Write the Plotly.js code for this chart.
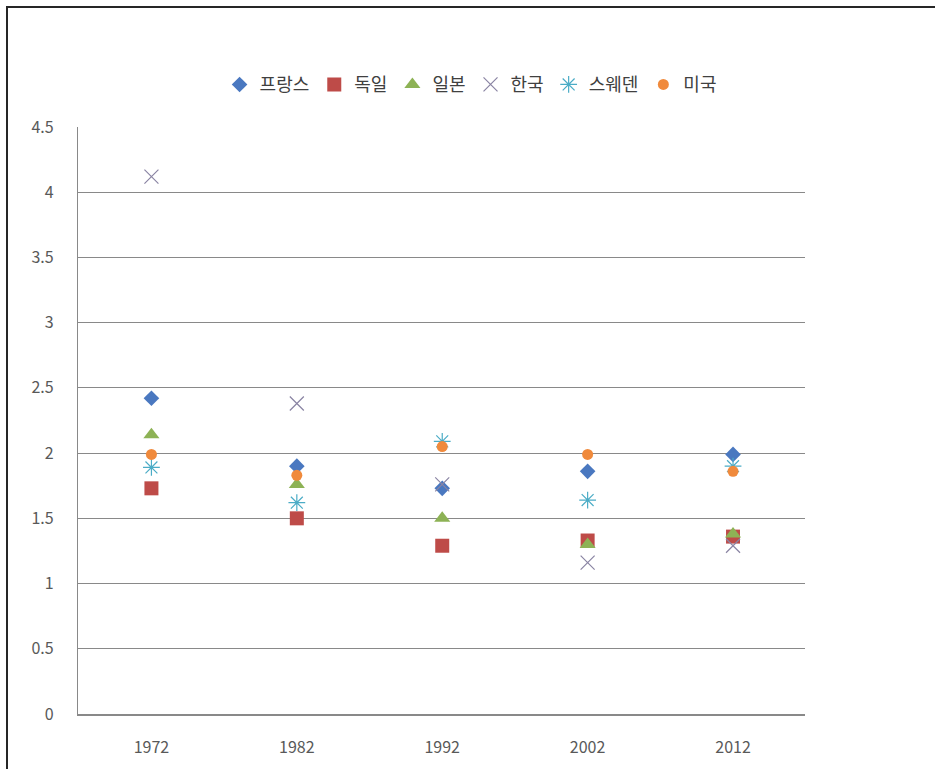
<!DOCTYPE html>
<html>
<head>
<meta charset="utf-8">
<script src="https://cdn.plot.ly/plotly-3.0.1.min.js"></script>
<style>
  html, body { margin: 0; padding: 0; background: #fff; }
  #wrap { position: relative; width: 935px; height: 769px; overflow: hidden; }
  #chart { position: absolute; left: 0; top: 0; width: 935px; height: 769px; }
  #frame { position: absolute; left: 6px; top: 6px; width: 960px; height: 800px;
           border-left: 2px solid #262626; border-top: 2px solid #262626; pointer-events: none; }
</style>
</head>
<body>
<div id="wrap">
  <div id="chart"></div>
  <div id="frame"></div>
</div>
<script>
const years = ['1972', '1982', '1992', '2002', '2012'];
const seriesNames = ['프랑스', '독일', '일본', '한국', '스웨덴', '미국'];
const france = [2.42, 1.90, 1.73, 1.86, 1.99];
const germany = [1.73, 1.50, 1.29, 1.33, 1.36];
const japan = [2.14, 1.76, 1.50, 1.30, 1.38];
const korea = [4.12, 2.38, 1.76, 1.16, 1.29];
const sweden = [1.89, 1.62, 2.09, 1.64, 1.90];
const usa = [1.99, 1.83, 2.05, 1.99, 1.86];
const yTicks = [0, 0.5, 1, 1.5, 2, 2.5, 3, 3.5, 4, 4.5];
const yTickText = ['0', '0.5', '1', '1.5', '2', '2.5', '3', '3.5', '4', '4.5'];

const values = [france, germany, japan, korea, sweden, usa];
const styles = [
  {symbol: 'diamond', color: '#4A78C0', size: 12},
  {symbol: 'square', color: '#BE4B48', size: 14},
  {symbol: 'triangle-up', color: '#8DB255', size: 14},
  {symbol: 'x-thin-open', color: '#8A84A3', size: 14, lw: 1.2},
  {symbol: 'asterisk-open', color: '#4BACC6', size: 14, lw: 1.2},
  {symbol: 'circle', color: '#F08A3C', size: 11}
];

const traces = values.map((v, i) => {
  const s = styles[i];
  const m = {symbol: s.symbol, color: s.color, size: s.size};
  if (s.lw) m.line = {color: s.color, width: s.lw};
  else m.line = {width: 0};
  return {type: 'scatter', mode: 'markers', name: seriesNames[i], x: years, y: v, marker: m};
});

const layout = {
  width: 935, height: 769,
  margin: {l: 78, r: 130, t: 127, b: 55},
  paper_bgcolor: '#fff', plot_bgcolor: '#fff',
  font: {family: 'Noto Sans CJK KR, Noto Sans, sans-serif', color: '#595959', size: 15},
  showlegend: true,
  legend: {
    orientation: 'h', x: 0.54, xanchor: 'center', y: 1.072, yanchor: 'middle',
    font: {size: 18, color: '#404040'}, itemwidth: 30, tracegroupgap: 0
  },
  xaxis: {
    type: 'category', range: [-0.505, 4.495], showgrid: false,
    showline: true, linecolor: '#898989', linewidth: 1.5,
    ticks: '', ticklabelstandoff: 18,
    tickfont: {family: 'Noto Sans CJK KR, Noto Sans, sans-serif', size: 16, color: '#595959'},
    zeroline: false, fixedrange: true
  },
  yaxis: {
    range: [0, 4.5], tickvals: yTicks, ticktext: yTickText,
    showgrid: true, gridcolor: '#898989', gridwidth: 1.2,
    showline: true, linecolor: '#898989', linewidth: 1.2,
    ticks: '', ticklabelstandoff: 20,
    tickfont: {family: 'Noto Sans CJK KR, Noto Sans, sans-serif', size: 16, color: '#595959'},
    zeroline: false, fixedrange: true
  }
};

Plotly.newPlot('chart', traces, layout, {displayModeBar: false, staticPlot: true});
</script>
</body>
</html>
